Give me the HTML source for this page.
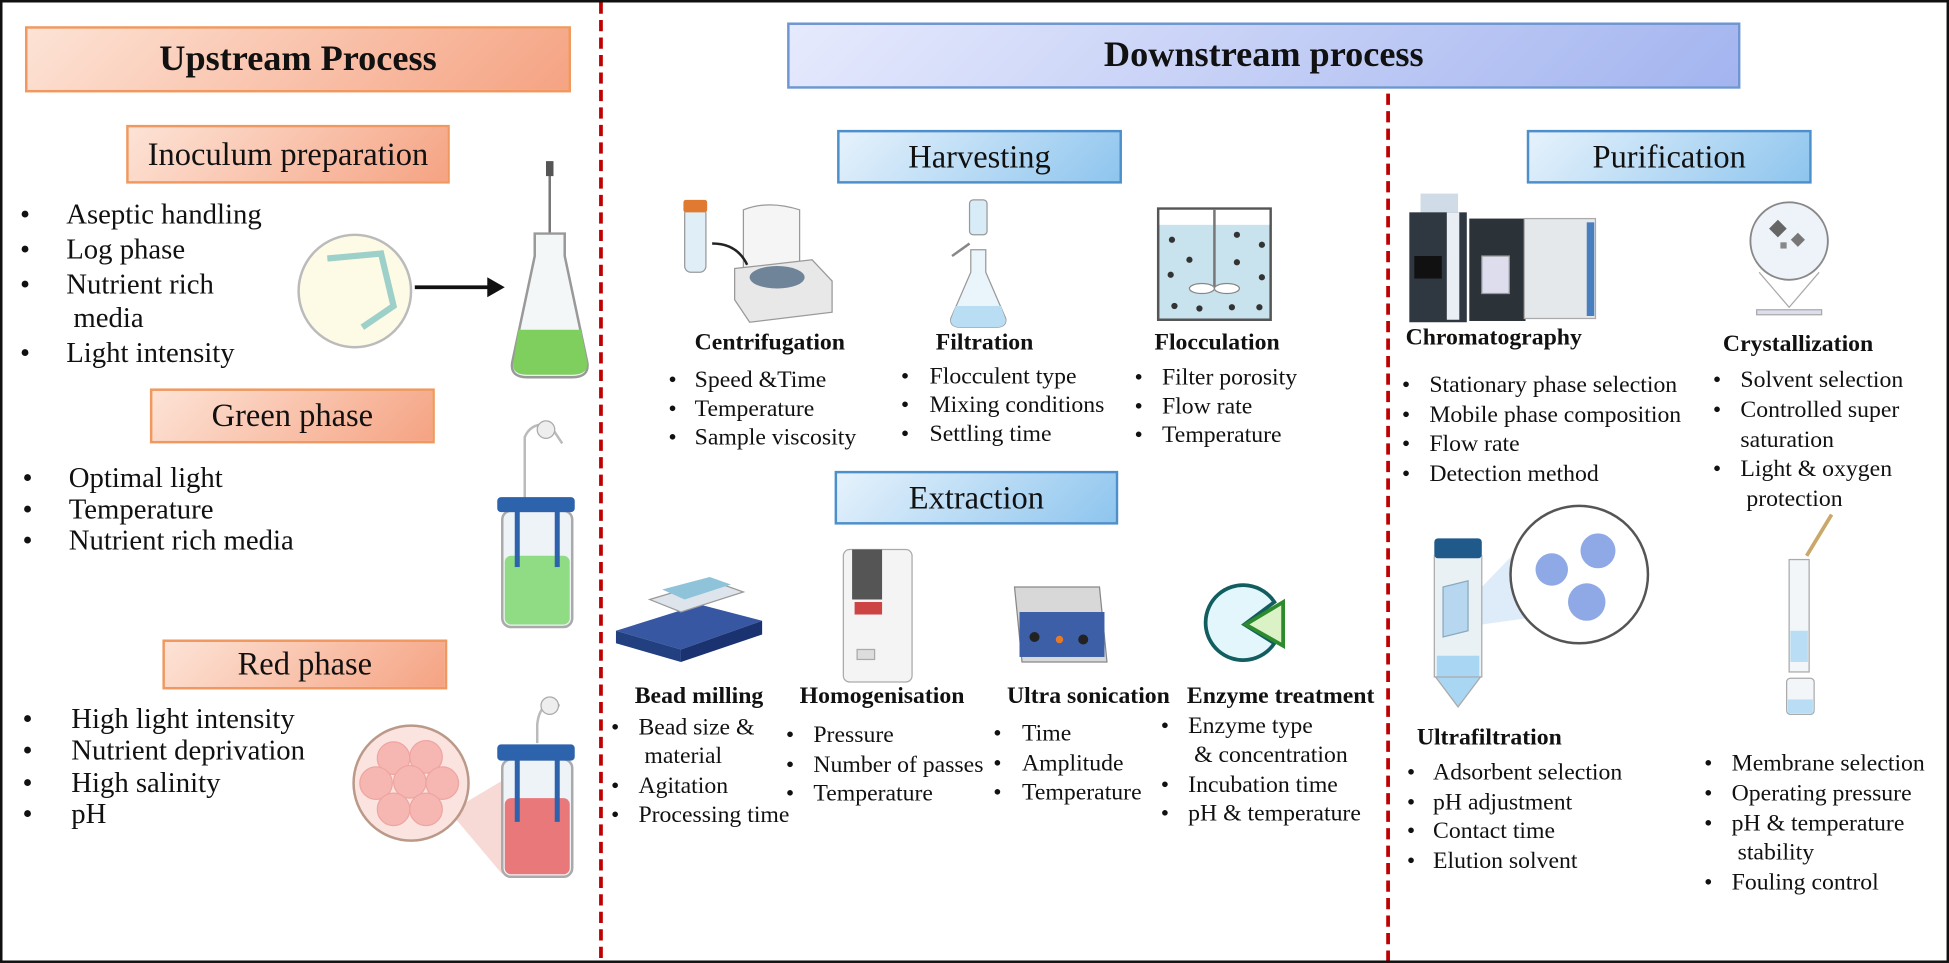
<!DOCTYPE html>
<html><head><meta charset="utf-8"><style>
html,body{margin:0;padding:0;background:#fff;}
body{width:1949px;height:963px;overflow:hidden;}
#w{position:absolute;left:0;top:0;width:1560px;height:771px;transform-origin:0 0;transform:scale(1.2494,1.249);font-family:"Liberation Serif",serif;color:#111;}
.a{position:absolute;white-space:nowrap;}
.t{font-size:19px;line-height:22px;}
.L{font-size:23px;}
.b{font-weight:bold;font-size:19px;line-height:22px;}
.box{position:absolute;display:flex;align-items:center;justify-content:center;box-sizing:border-box;font-size:26px;}
.or{background:linear-gradient(135deg,#fde3d6,#f5a383);border:2px solid #f0985f;}
.bl{background:linear-gradient(135deg,#e6f2fc,#8ec5ee);border:2px solid #4d8fcb;}
.bd{background:linear-gradient(135deg,#e6eafd,#a3b4ef);border:2px solid #6f96d2;}
</style></head><body><div id="w">
<div class="a" style="left:0;top:0;width:1556px;height:767px;border:2px solid #111;"></div>
<svg class="a" style="left:0;top:0" width="1560" height="771">
<line x1="481" y1="2" x2="481" y2="769" stroke="#c00000" stroke-width="3" stroke-dasharray="9,5"/>
<line x1="1111" y1="75" x2="1111" y2="769" stroke="#c00000" stroke-width="3" stroke-dasharray="9,5"/>
<!-- petri -->
<circle cx="284" cy="233" r="45" fill="#fdfae6" stroke="#bbb" stroke-width="2"/>
<path d="M262 207 L305 203 L315 245 L290 262" stroke="#9dd0c8" stroke-width="5" fill="none"/>
<line x1="332" y1="230" x2="392" y2="230" stroke="#111" stroke-width="3"/>
<polygon points="390,222 404,230 390,238" fill="#111"/>
<!-- flask -->
<line x1="440" y1="135" x2="440" y2="192" stroke="#777" stroke-width="2"/>
<rect x="437" y="129" width="6" height="12" fill="#555"/>
<path d="M428 187 L452 187 L452 205 L470 290 Q472 302 458 302 L422 302 Q408 302 410 290 L428 205 Z" fill="#f3f7f7" stroke="#999" stroke-width="2"/>
<path d="M415 264 L465 264 L470 290 Q471 300 458 300 L422 300 Q409 300 411 290 Z" fill="#7fcf5e"/>
<!-- green bioreactor -->
<path d="M420 400 L420 350 Q425 338 440 340 L450 355" stroke="#bbb" stroke-width="2" fill="none"/>
<circle cx="437" cy="344" r="7" fill="#eee" stroke="#aaa"/>
<rect x="402" y="409" width="56" height="93" rx="7" fill="#eef3f7" stroke="#aaa" stroke-width="2"/>
<rect x="404" y="445" width="52" height="55" rx="5" fill="#8fdc84"/>
<rect x="398" y="398" width="62" height="12" rx="3" fill="#2d62ad"/>
<rect x="412" y="409" width="4" height="45" fill="#2d62ad"/><rect x="444" y="409" width="4" height="45" fill="#2d62ad"/>
<!-- red bioreactor -->
<path d="M430 595 L430 580 Q432 560 448 565" stroke="#bbb" stroke-width="2" fill="none"/>
<circle cx="440" cy="565" r="7" fill="#eee" stroke="#aaa"/>
<polygon points="360,650 402,625 402,700" fill="#f2c0bb" opacity="0.6"/>
<circle cx="329" cy="627" r="46" fill="#fbe3e0" stroke="#b98" stroke-width="2"/>
<g fill="#f6b7b3" stroke="#eea5a0"><circle cx="315" cy="607" r="13"/><circle cx="341" cy="606" r="13"/><circle cx="301" cy="627" r="13"/><circle cx="328" cy="626" r="13"/><circle cx="354" cy="627" r="13"/><circle cx="315" cy="648" r="13"/><circle cx="341" cy="648" r="13"/></g>
<rect x="402" y="608" width="56" height="94" rx="7" fill="#eef3f7" stroke="#aaa" stroke-width="2"/>
<rect x="404" y="639" width="52" height="61" rx="5" fill="#e8787a"/>
<rect x="398" y="596" width="62" height="13" rx="3" fill="#2d62ad"/>
<rect x="412" y="608" width="4" height="50" fill="#2d62ad"/><rect x="444" y="608" width="4" height="50" fill="#2d62ad"/>
<!-- centrifuge -->
<rect x="548" y="166" width="17" height="52" rx="5" fill="#e0eef8" stroke="#999"/>
<rect x="547" y="160" width="19" height="10" rx="2" fill="#e07a30"/>
<path d="M595 168 Q615 160 640 168 L640 210 L595 215 Z" fill="#f5f5f5" stroke="#999"/>
<path d="M588 215 L650 208 L666 225 L666 250 L600 258 L588 240 Z" fill="#e8e8e8" stroke="#999"/>
<ellipse cx="622" cy="222" rx="22" ry="9" fill="#6f8498"/>
<path d="M570 195 Q590 195 598 212" stroke="#222" stroke-width="2" fill="none"/>
<!-- filtration -->
<rect x="776" y="160" width="14" height="28" rx="3" fill="#d7ecf7" stroke="#999"/>
<line x1="762" y1="205" x2="776" y2="195" stroke="#888" stroke-width="2"/>
<path d="M777 200 L789 200 L789 218 L805 255 Q806 262 797 262 L769 262 Q760 262 761 255 L777 218Z" fill="#e9f5fb" stroke="#999"/>
<path d="M765 245 L801 245 L805 256 Q805 262 797 262 L769 262 Q761 262 761 256Z" fill="#b9def3"/>
<!-- flocculation -->
<rect x="927" y="167" width="90" height="89" fill="#c8e3ee" stroke="#555" stroke-width="2"/>
<rect x="928" y="168" width="88" height="12" fill="#fff"/>
<line x1="972" y1="168" x2="972" y2="230" stroke="#777" stroke-width="2"/>
<ellipse cx="962" cy="231" rx="10" ry="4" fill="#fff" stroke="#888"/><ellipse cx="982" cy="231" rx="10" ry="4" fill="#fff" stroke="#888"/>
<g fill="#333"><circle cx="938" cy="192" r="2.5"/><circle cx="952" cy="208" r="2.5"/><circle cx="990" cy="188" r="2.5"/><circle cx="937" cy="220" r="2.5"/><circle cx="1010" cy="222" r="2.5"/><circle cx="990" cy="210" r="2.5"/><circle cx="940" cy="245" r="2.5"/><circle cx="1008" cy="246" r="2.5"/><circle cx="960" cy="247" r="2.5"/><circle cx="986" cy="246" r="2.5"/><circle cx="1010" cy="196" r="2.5"/></g>
<!-- bead mill -->
<path d="M493 505 L560 484 L610 497 L545 520 Z" fill="#3757a3"/>
<path d="M493 505 L545 520 L545 530 L493 515Z" fill="#223f80"/>
<path d="M545 520 L610 497 L610 508 L545 530Z" fill="#1b3270"/>
<path d="M520 480 L570 465 L595 474 L545 490 Z" fill="#dde4ec" stroke="#999"/>
<path d="M530 472 L568 462 L585 468 L548 480 Z" fill="#8fc3d9"/>
<!-- homogeniser -->
<rect x="675" y="440" width="55" height="106" rx="5" fill="#f4f4f4" stroke="#aaa"/>
<path d="M682 440 L706 440 L706 480 L682 480 Z" fill="#555"/>
<rect x="684" y="482" width="22" height="10" fill="#c44"/>
<rect x="686" y="520" width="14" height="8" fill="#ddd" stroke="#aaa"/>
<!-- sonicator -->
<path d="M812 470 L880 470 L886 530 L818 530 Z" fill="#d8d8d8" stroke="#888"/>
<rect x="816" y="490" width="68" height="36" fill="#3c5fa8"/>
<g fill="#222"><circle cx="828" cy="510" r="4"/><circle cx="867" cy="512" r="4"/></g><circle cx="848" cy="512" r="3" fill="#e67a2c"/>
<!-- enzyme -->
<path d="M1020 515 A30 30 0 1 1 1020 482 L996 500 Z" fill="#e3f6fb" stroke="#115d5f" stroke-width="3"/>
<polygon points="997,500 1027,482 1027,517" fill="#dbf2c7" stroke="#2d8a2d" stroke-width="3"/>
<!-- chromatography -->
<rect x="1137" y="155" width="30" height="18" fill="#cfdbe6"/>
<rect x="1128" y="170" width="46" height="88" fill="#2f3740"/>
<rect x="1158" y="170" width="10" height="86" fill="#e8eef3"/>
<rect x="1132" y="205" width="22" height="18" fill="#111"/>
<rect x="1176" y="175" width="45" height="82" fill="#2b3238"/>
<rect x="1186" y="205" width="22" height="30" fill="#dde" stroke="#999"/>
<rect x="1220" y="175" width="57" height="80" fill="#e4e8ea" stroke="#aaa"/>
<rect x="1270" y="178" width="6" height="75" fill="#4a7fbf"/>
<!-- crystallization -->
<circle cx="1432" cy="193" r="31" fill="#eef3f9" stroke="#888" stroke-width="1.5"/>
<rect x="1418" y="178" width="10" height="10" fill="#666" transform="rotate(45 1423 183)"/><rect x="1435" y="188" width="8" height="8" fill="#777" transform="rotate(45 1439 192)"/><rect x="1425" y="194" width="5" height="5" fill="#888"/>
<path d="M1408 218 L1432 246 L1456 218" stroke="#aaa" fill="none"/>
<rect x="1406" y="248" width="52" height="4" fill="#dde" stroke="#aaa"/>
<!-- ultrafiltration -->
<polygon points="1186,470 1215,440 1222,495 1186,500" fill="#d6e6f6" opacity="0.8"/>
<rect x="1148" y="445" width="38" height="97" fill="#eaf1f5" stroke="#aaa"/>
<rect x="1148" y="431" width="38" height="16" rx="3" fill="#1f5a8a"/>
<rect x="1150" y="525" width="34" height="17" fill="#a9d6f3"/>
<path d="M1149 542 L1185 542 L1167 566Z" fill="#a9d6f3" stroke="#aaa"/>
<path d="M1155 470 L1175 465 L1175 505 L1155 510Z" fill="#b6d7ef" stroke="#8ab"/>
<circle cx="1264" cy="460" r="55" fill="#fff" stroke="#555" stroke-width="2"/>
<g fill="#8fa9e6"><circle cx="1242" cy="456" r="13"/><circle cx="1279" cy="441" r="14"/><circle cx="1270" cy="482" r="15"/></g>
<!-- column -->
<line x1="1466" y1="412" x2="1446" y2="445" stroke="#c9a86a" stroke-width="3"/>
<rect x="1432" y="448" width="16" height="90" fill="#f2f6f9" stroke="#aaa"/>
<rect x="1433" y="505" width="14" height="25" fill="#b9ddf4"/>
<rect x="1430" y="543" width="22" height="29" rx="3" fill="#f2f6f9" stroke="#aaa"/>
<rect x="1431" y="560" width="20" height="11" fill="#b9ddf4"/>
</svg>

<div class="box or" style="left:20px;top:21px;width:437px;height:53px;font-weight:bold;font-size:29px;">Upstream Process</div>
<div class="box or" style="left:101px;top:100px;width:259px;height:47px;">Inoculum preparation</div>
<div class="box or" style="left:120px;top:311px;width:228px;height:44px;">Green phase</div>
<div class="box or" style="left:130px;top:512px;width:228px;height:40px;">Red phase</div>
<div class="box bd" style="left:630px;top:18px;width:763px;height:53px;font-weight:bold;font-size:29px;">Downstream process</div>
<div class="box bl" style="left:670px;top:104px;width:228px;height:43px;">Harvesting</div>
<div class="box bl" style="left:668px;top:377px;width:227px;height:43px;">Extraction</div>
<div class="box bl" style="left:1222px;top:104px;width:228px;height:43px;">Purification</div>

<div class="a t L" style="left:16px;top:158px;line-height:27.8px;">•<br>•<br>•<br><br>•</div>
<div class="a t L" style="left:53px;top:158px;line-height:27.8px;">Aseptic handling<br>Log phase<br>Nutrient rich<br>&nbsp;media<br>Light intensity</div>
<div class="a t L" style="left:18px;top:370px;line-height:25px;">•<br>•<br>•</div>
<div class="a t L" style="left:55px;top:370px;line-height:25px;">Optimal light<br>Temperature<br>Nutrient rich media</div>
<div class="a t L" style="left:18px;top:563px;line-height:25.3px;">•<br>•<br>•<br>•</div>
<div class="a t L" style="left:57px;top:563px;line-height:25.3px;">High light intensity<br>Nutrient deprivation<br>High salinity<br>pH</div>

<div class="a b" style="left:556px;top:264px;">Centrifugation</div>
<div class="a b" style="left:749px;top:264px;">Filtration</div>
<div class="a b" style="left:924px;top:264px;">Flocculation</div>
<div class="a t" style="left:535px;top:293px;line-height:23px;">•<br>•<br>•</div>
<div class="a t" style="left:556px;top:293px;line-height:23px;">Speed &amp;Time<br>Temperature<br>Sample viscosity</div>
<div class="a t" style="left:721px;top:290px;line-height:23px;">•<br>•<br>•</div>
<div class="a t" style="left:744px;top:290px;line-height:23px;">Flocculent type<br>Mixing conditions<br>Settling time</div>
<div class="a t" style="left:908px;top:291px;line-height:23px;">•<br>•<br>•</div>
<div class="a t" style="left:930px;top:291px;line-height:23px;">Filter porosity<br>Flow rate<br>Temperature</div>

<div class="a b" style="left:508px;top:547px;">Bead milling</div>
<div class="a b" style="left:640px;top:547px;">Homogenisation</div>
<div class="a b" style="left:806px;top:547px;">Ultra sonication</div>
<div class="a b" style="left:950px;top:547px;">Enzyme treatment</div>
<div class="a t" style="left:489px;top:571px;line-height:23.3px;">•<br><br>•<br>•</div>
<div class="a t" style="left:511px;top:571px;line-height:23.3px;">Bead size &amp;<br>&nbsp;material<br>Agitation<br>Processing time</div>
<div class="a t" style="left:629px;top:577px;line-height:23.5px;">•<br>•<br>•</div>
<div class="a t" style="left:651px;top:577px;line-height:23.5px;">Pressure<br>Number of passes<br>Temperature</div>
<div class="a t" style="left:795px;top:576px;line-height:23.5px;">•<br>•<br>•</div>
<div class="a t" style="left:818px;top:576px;line-height:23.5px;">Time<br>Amplitude<br>Temperature</div>
<div class="a t" style="left:929px;top:570px;line-height:23.3px;">•<br><br>•<br>•</div>
<div class="a t" style="left:951px;top:570px;line-height:23.3px;">Enzyme type<br>&nbsp;&amp; concentration<br>Incubation time<br>pH &amp; temperature</div>

<div class="a b" style="left:1125px;top:260px;">Chromatography</div>
<div class="a b" style="left:1379px;top:265px;">Crystallization</div>
<div class="a t" style="left:1122px;top:297px;line-height:23.7px;">•<br>•<br>•<br>•</div>
<div class="a t" style="left:1144px;top:297px;line-height:23.7px;">Stationary phase selection<br>Mobile phase composition<br>Flow rate<br>Detection method</div>
<div class="a t" style="left:1371px;top:293px;line-height:23.8px;">•<br>•<br><br>•</div>
<div class="a t" style="left:1393px;top:293px;line-height:23.8px;">Solvent selection<br>Controlled super<br>saturation<br>Light &amp; oxygen<br>&nbsp;protection</div>
<div class="a b" style="left:1134px;top:580px;">Ultrafiltration</div>
<div class="a t" style="left:1126px;top:607px;line-height:23.5px;">•<br>•<br>•<br>•</div>
<div class="a t" style="left:1147px;top:607px;line-height:23.5px;">Adsorbent selection<br>pH adjustment<br>Contact time<br>Elution solvent</div>
<div class="a t" style="left:1364px;top:600px;line-height:23.8px;">•<br>•<br>•<br><br>•</div>
<div class="a t" style="left:1386px;top:600px;line-height:23.8px;">Membrane selection<br>Operating pressure<br>pH &amp; temperature<br>&nbsp;stability<br>Fouling control</div>
</div></body></html>
